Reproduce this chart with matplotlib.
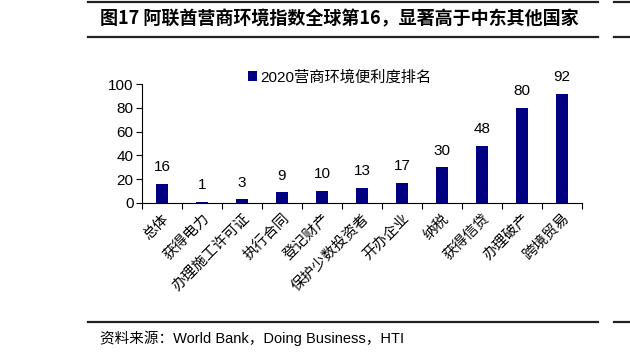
import matplotlib.pyplot as plt
from matplotlib.lines import Line2D

categories = ['总体', '获得电力', '办理施工许可证', '执行合同', '登记财产', '保护少数投资者',
              '开办企业', '纳税', '获得信贷', '办理破产', '跨境贸易']
ranks = [16, 1, 3, 9, 10, 13, 17, 30, 48, 80, 92]
series_name = '2020营商环境便利度排名'
yticks = [0, 20, 40, 60, 80, 100]

title = '图17 阿联酋营商环境指数全球第16，显著高于中东其他国家'
source = '资料来源：World Bank，Doing Business，HTI'

plt.rcParams['font.family'] = ['Liberation Sans', 'Noto Sans CJK SC', 'DejaVu Sans']
W, H = 630, 356
fig = plt.figure(figsize=(W / 100, H / 100), dpi=100)

# axes placed in pixel terms of the reference
ax = fig.add_axes([142 / W, (H - 203) / H, 440 / W, (203 - 84) / H])
x = list(range(len(categories)))
bars = ax.bar(x, ranks, width=0.3, color='#000080', label=series_name)
for xi, v in zip(x, ranks):
    ax.annotate(str(v), (xi, v), xytext=(0, 7), textcoords='offset points',
                ha='center', va='bottom', fontsize=11)

ax.set_xlim(-0.5, len(categories) - 0.5)
ax.set_ylim(0, 100)
ax.set_yticks(yticks)
ax.tick_params(axis='y', labelsize=11, direction='out', length=4, width=0.8, pad=2)
ax.set_xticks([i - 0.5 for i in range(len(categories) + 1)], minor=True)
ax.set_xticks(x)
ax.set_xticklabels(categories, rotation=45, ha='right', rotation_mode='anchor',
                   fontsize=10.5, family=['Noto Sans CJK SC'])
ax.tick_params(axis='x', which='major', length=0, pad=6)
ax.tick_params(axis='x', which='minor', length=4, width=0.8, direction='out')
for s in ['top', 'right']:
    ax.spines[s].set_visible(False)
for s in ['left', 'bottom']:
    ax.spines[s].set_linewidth(0.8)

leg = fig.legend(handles=[bars], labels=[series_name], loc='center',
                 bbox_to_anchor=(340 / W, 1 - 77 / H), frameon=False,
                 handlelength=0.6, handleheight=0.6, handletextpad=0.2,
                 prop={'size': 11, 'family': ['Liberation Sans', 'Noto Sans CJK SC']})

# header / footer rules
for yy in [2, 37, 322]:
    fig.add_artist(Line2D([88 / W, 598 / W], [1 - yy / H] * 2, color='#222222', lw=1.6))
    fig.add_artist(Line2D([614 / W, 1], [1 - yy / H] * 2, color='#222222', lw=1.6))

fig.text(100 / W, 1 - 19 / H, title, ha='left', va='center', fontsize=13,
         fontweight='bold', family=['Noto Sans CJK SC'])
fig.text(100 / W, 1 - 338 / H, source, ha='left', va='center', fontsize=10.5,
         family=['Liberation Sans', 'Noto Sans CJK SC'])

fig.savefig('out.png', dpi=100)
